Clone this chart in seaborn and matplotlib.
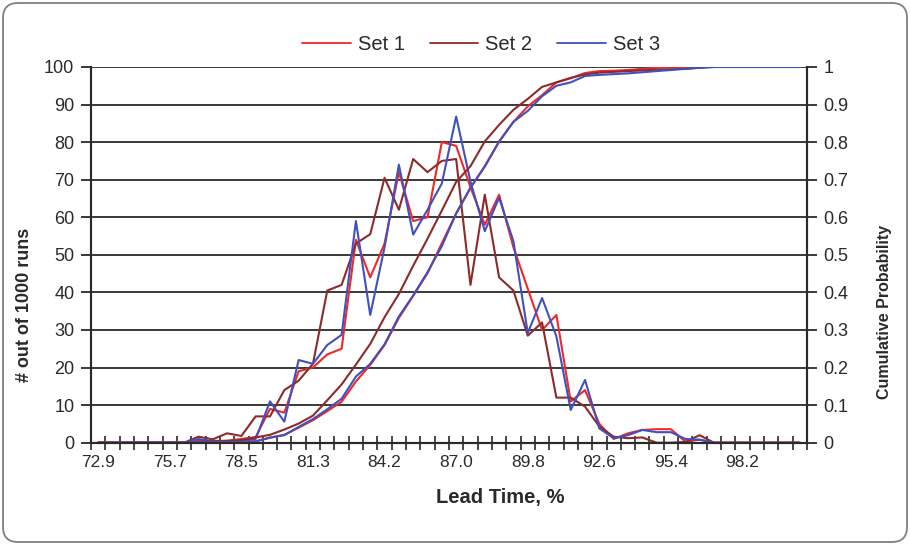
import numpy as np
import pandas as pd
import matplotlib
matplotlib.use("Agg")
import matplotlib.pyplot as plt
import seaborn as sns
from matplotlib.lines import Line2D
from matplotlib.patches import FancyBboxPatch

# ---- data ----
series_names = ["Set 1", "Set 2", "Set 3"]
tick_labels = ["72.9", "75.7", "78.5", "81.3", "84.2", "87.0", "89.8", "92.6", "95.4", "98.2"]
n_bins = 50

set1 = [0, 0, 0, 0, 0, 0, 0, 0.5, 0.5, 0.5,
        1, 1.5, 9, 8, 19, 20, 23.5, 25, 54, 44,
        53, 72, 59, 60, 80, 79, 68, 58, 66, 52,
        41, 30, 34, 11, 14, 5, 1, 2.5, 3.4, 3.6,
        3.6, 0.3, 0.8, 0, 0, 0, 0, 0, 0, 0]
set2 = [0, 0, 0, 0, 0, 0, 0, 1.6, 0.9, 2.5,
        1.8, 7, 7, 14, 16.5, 21, 40.5, 42, 53, 55.5,
        70.5, 62, 75.5, 72, 75, 75.5, 42, 66, 44, 40.5,
        28.5, 32, 12, 12, 9.6, 4.3, 1.6, 1.2, 1.4, 0,
        0, 0.2, 2, 0, 0, 0, 0, 0, 0, 0]
set3 = [0, 0, 0, 0, 0, 0, 0, 1, 0.3, 0.3,
        0.5, 1, 11, 5.6, 22, 21, 26, 28.7, 59, 34,
        52, 74, 55.4, 62, 69, 86.8, 69.5, 56.3, 65.2, 53.6,
        29.2, 38.5, 28.3, 8.7, 16.7, 3.8, 1.2, 2, 3.4, 2.8,
        2.8, 1, 0.8, 0, 0, 0, 0, 0, 0, 0]

cum1 = [0, 0, 0, 0, 0, 0, 0, 0.001, 0.001, 0.002,
        0.003, 0.004, 0.013, 0.021, 0.040, 0.060, 0.084, 0.109, 0.163, 0.207,
        0.260, 0.332, 0.391, 0.451, 0.531, 0.610, 0.678, 0.736, 0.802, 0.854,
        0.895, 0.925, 0.959, 0.970, 0.984, 0.989, 0.990, 0.992, 0.995, 0.998,
        0.999, 0.999, 1.0, 1.0, 1.0, 1.0, 1.0, 1.0, 1.0, 1.0]
cum2 = [0, 0, 0, 0, 0, 0, 0, 0.002, 0.003, 0.005,
        0.007, 0.014, 0.021, 0.035, 0.051, 0.072, 0.113, 0.155, 0.208, 0.263,
        0.334, 0.396, 0.471, 0.543, 0.618, 0.694, 0.736, 0.802, 0.846, 0.886,
        0.915, 0.947, 0.959, 0.971, 0.980, 0.985, 0.987, 0.989, 0.991, 0.993,
        0.994, 0.995, 0.998, 1.0, 1.0, 1.0, 1.0, 1.0, 1.0, 1.0]
cum3 = [0, 0, 0, 0, 0, 0, 0, 0.001, 0.001, 0.002,
        0.002, 0.003, 0.014, 0.020, 0.042, 0.063, 0.089, 0.117, 0.176, 0.210,
        0.262, 0.336, 0.392, 0.454, 0.523, 0.610, 0.679, 0.735, 0.801, 0.854,
        0.883, 0.922, 0.950, 0.959, 0.976, 0.979, 0.981, 0.983, 0.986, 0.989,
        0.992, 0.995, 0.998, 1.0, 1.0, 1.0, 1.0, 1.0, 1.0, 1.0]

colors = {"Set 1": "#F02828", "Set 2": "#8C2B2B", "Set 3": "#3F51C0"}

# ---- frames ----
idx = np.arange(n_bins)
df_hist = pd.DataFrame({
    "bin": np.tile(idx, 3),
    "count": set1 + set2 + set3,
    "series": np.repeat(series_names, n_bins),
})
df_cum = pd.DataFrame({
    "bin": np.tile(idx, 3),
    "prob": cum1 + cum2 + cum3,
    "series": np.repeat(series_names, n_bins),
})

sns.set_theme(style="white")
plt.rcParams["font.family"] = ["Liberation Sans", "DejaVu Sans"]
text_color = "#2a2a2a"
line_dark = "#2a2a2a"

fig = plt.figure(figsize=(9.1, 5.45), dpi=100)
ax = fig.add_axes([0.1, 0.1877, 0.7868, 0.6894])
ax2 = ax.twinx()

sns.lineplot(data=df_hist, x="bin", y="count", hue="series", palette=colors,
             ax=ax, legend=False, linewidth=1.5, estimator=None, sort=False)
sns.lineplot(data=df_cum, x="bin", y="prob", hue="series", palette=colors,
             ax=ax2, legend=False, linewidth=1.5, estimator=None, sort=False)

ax.set_xlim(-0.5, n_bins - 0.5)
ax.set_ylim(0, 100)
ax2.set_ylim(0, 1)

# grid
ax.set_yticks(np.arange(0, 101, 10))
ax.yaxis.grid(True, color=line_dark, linewidth=1.3)
ax.set_axisbelow(True)
ax2.set_yticks(np.arange(0, 1.01, 0.1))
ax2.set_yticklabels(["0"] + [f"{v:.1f}" for v in np.arange(0.1, 0.95, 0.1)] + ["1"])

# x ticks: boundaries (marks) and centers (labels)
ax.set_xticks(np.arange(-0.5, n_bins, 1))
ax.set_xticklabels([])
ax.set_xticks(np.arange(0, n_bins, 5), minor=True)
ax.set_xticklabels(tick_labels, minor=True)
ax.tick_params(axis="x", which="major", direction="inout", length=10, width=1.2,
               color=line_dark, bottom=True)
ax.tick_params(axis="x", which="minor", length=0, labelsize=12.5, pad=9,
               labelcolor=text_color, bottom=True)
ax.tick_params(axis="y", direction="out", length=7, width=1.3, color=line_dark,
               labelsize=13, labelcolor=text_color, pad=5, left=True)
ax2.tick_params(axis="y", direction="out", length=7, width=1.3, color=line_dark,
                labelsize=13, labelcolor=text_color, pad=5, right=True)

for a in (ax, ax2):
    a.set_xlabel("")
    a.set_ylabel("")
    a.spines["top"].set_visible(False)
    for s in ("left", "right", "bottom"):
        a.spines[s].set_color(line_dark)
        a.spines[s].set_linewidth(1.5)

# labels
fig.text(500 / 910, 1 - 497 / 545, "Lead Time, %", ha="center", va="center",
         fontsize=14.5, fontweight="bold", color=text_color)
fig.text(25 / 910, 1 - 305 / 545, "# out of 1000 runs", ha="center", va="center",
         rotation=90, fontsize=13, fontweight="bold", color=text_color)
fig.text(885 / 910, 1 - 312 / 545, "Cumulative Probability", ha="center", va="center",
         rotation=90, fontsize=11.5, fontweight="bold", color=text_color)

# legend
handles = [Line2D([], [], color=colors[n], linewidth=1.3) for n in series_names]
fig.legend(handles, series_names, loc="center", bbox_to_anchor=(481 / 910, 1 - 45 / 545),
           ncol=3, frameon=False, fontsize=14.5, handlelength=2.4,
           columnspacing=1.25, handletextpad=0.35, labelcolor=text_color)

# rounded outer border
border = FancyBboxPatch((0.03, 0.03), 9.04, 5.39,
                        boxstyle="round,pad=0,rounding_size=0.15",
                        transform=fig.dpi_scale_trans, fill=False,
                        edgecolor="#808080", linewidth=1.3)
fig.patches.append(border)

fig.savefig("out.png", dpi=100)
